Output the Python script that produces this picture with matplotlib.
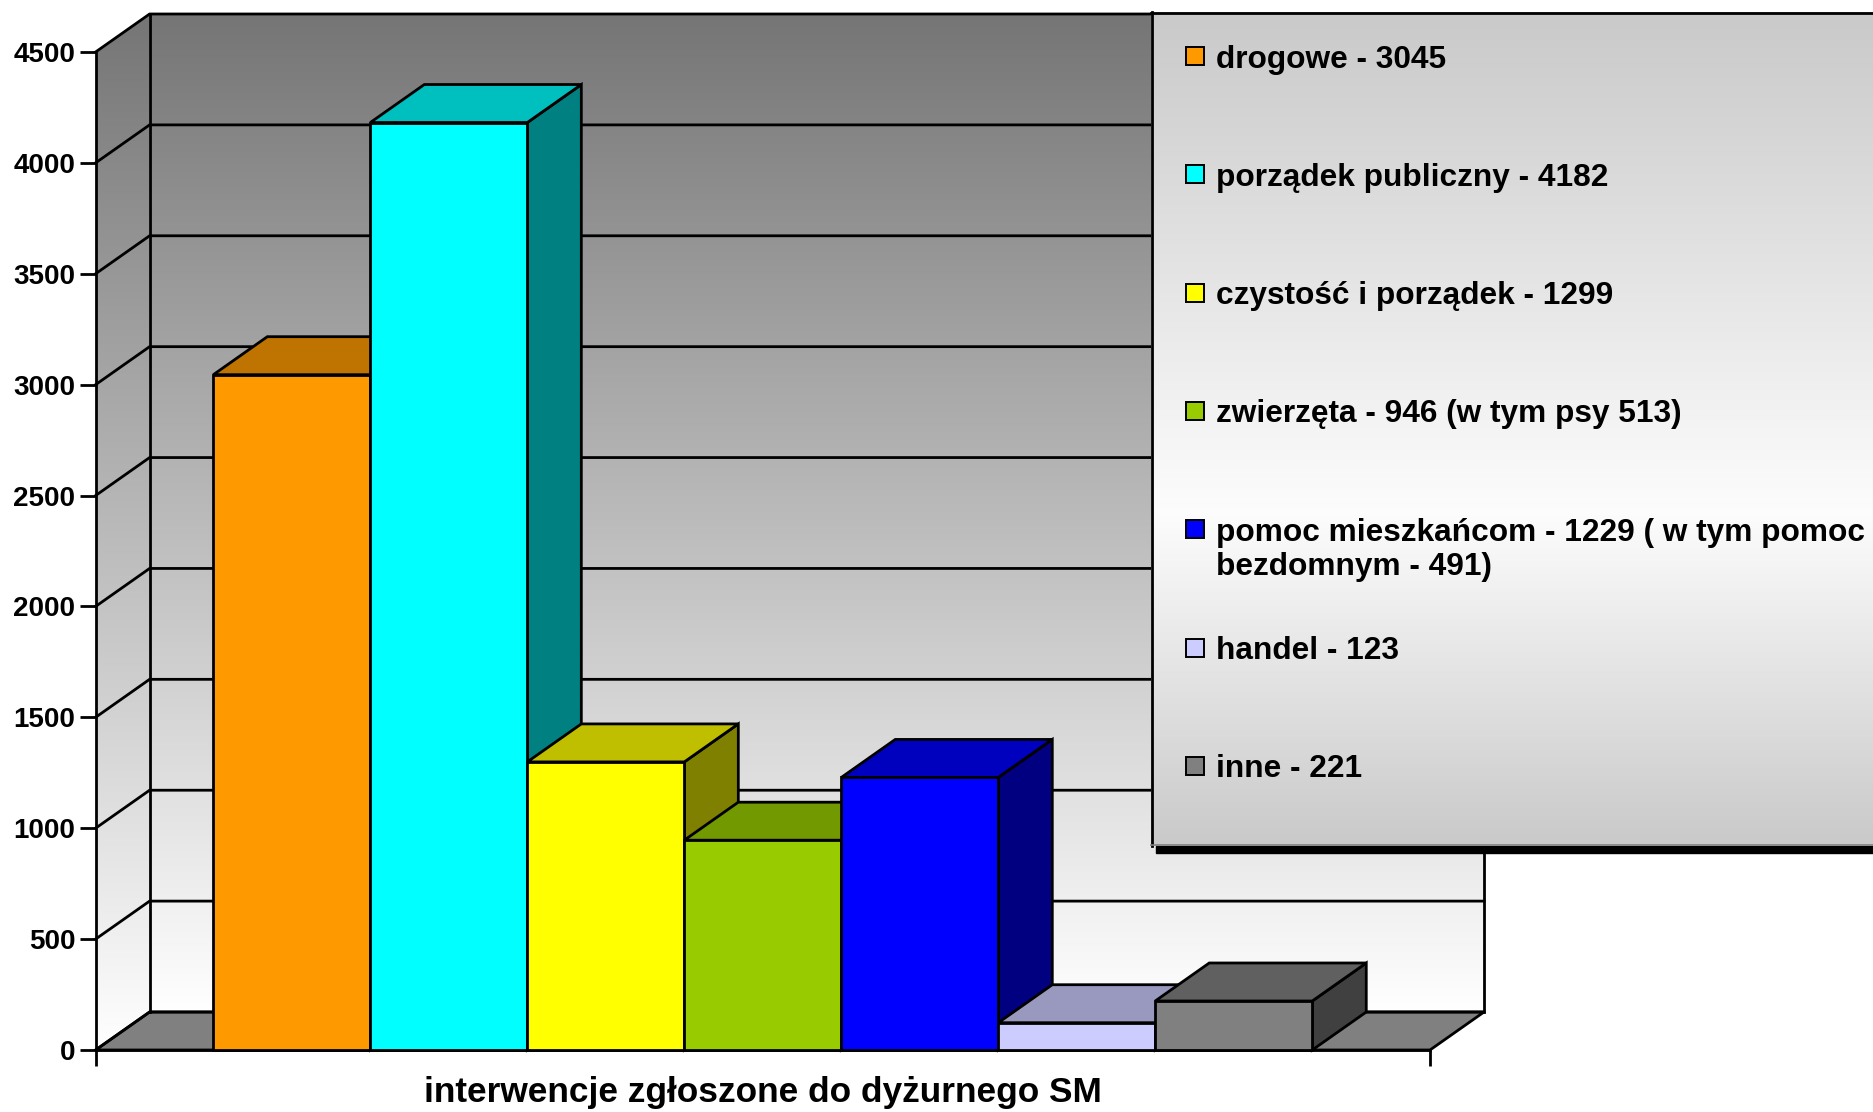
import numpy as np
import matplotlib.pyplot as plt
from matplotlib.patches import Polygon, Rectangle
from matplotlib.colors import to_rgb

plt.rcParams['font.family'] = ['Liberation Sans', 'DejaVu Sans']
plt.rcParams['font.weight'] = 'bold'

# data
category = "interwencje zgłoszone do dyżurnego SM"
series = ["drogowe", "porządek publiczny", "czystość i porządek", "zwierzęta",
          "pomoc mieszkańcom", "handel", "inne"]
values = [3045, 4182, 1299, 946, 1229, 123, 221]
legend_labels = ["drogowe - 3045",
                 "porządek publiczny - 4182",
                 "czystość i porządek - 1299",
                 "zwierzęta - 946 (w tym psy 513)",
                 "pomoc mieszkańcom - 1229 ( w tym pomoc\nbezdomnym - 491)",
                 "handel - 123",
                 "inne - 221"]
colors = ["#FF9900", "#00FFFF", "#FFFF00", "#99CC00", "#0000FF", "#CCCCFF", "#808080"]
yticks = np.arange(0, 4501, 500)

# layout (pixels, from top-left)
W, H = 1874, 1112
FX0, FX1 = 95.6, 1430      # front plane left / right
FY0, FY1 = 1050, 52        # value 0 / value YMAX
YMAX = 4500
DEPTH = (54, 38)           # 3d depth offset in px
GAP = 0.75
LW = 2.0

n = len(values)
XMIN, XMAX = -0.5 - GAP, n - 0.5 + GAP
sx = (FX1 - FX0) / (XMAX - XMIN)
sy = (FY0 - FY1) / YMAX
DX = DEPTH[0] / sx
DY = DEPTH[1] / sy

fig = plt.figure(figsize=(W / 100, H / 100), dpi=100)
ax = fig.add_axes([0, 0, 1, 1])
xlim = (XMIN - FX0 / sx, XMIN + (W - FX0) / sx)
ylim = (-(H - FY0) / sy, FY0 / sy)
ax.set_xlim(*xlim)
ax.set_ylim(*ylim)
ax.patch.set_visible(False)


def gradient(pts, extent, stops, z=0.5):
    poly = Polygon(pts, closed=True, fc='none', ec='none')
    ax.add_patch(poly)
    t = np.linspace(0, 1, 256)
    g = np.interp(t, [s[0] for s in stops], [s[1] for s in stops])
    img = np.dstack([np.repeat(g[:, None], 2, axis=1)] * 3)
    im = ax.imshow(img, extent=extent, origin='lower', aspect='auto',
                   interpolation='bilinear', zorder=z)
    im.set_clip_path(poly)


wall_stops = [(0, 1.0), (1, 0.46)]
# back wall
gradient([(XMIN + DX, DY), (XMAX + DX, DY), (XMAX + DX, YMAX + DY), (XMIN + DX, YMAX + DY)],
         (XMIN + DX, XMAX + DX, DY, YMAX + DY), wall_stops)
# side wall
gradient([(XMIN, 0), (XMIN + DX, DY), (XMIN + DX, YMAX + DY), (XMIN, YMAX)],
         (XMIN, XMIN + DX, 0, YMAX + DY), wall_stops)
# floor
ax.add_patch(Polygon([(XMIN, 0), (XMAX, 0), (XMAX + DX, DY), (XMIN + DX, DY)],
                     fc='#808080', ec='black', lw=LW, zorder=1))

# gridlines on walls
for v in yticks:
    ax.plot([XMIN, XMIN + DX, XMAX + DX], [v, v + DY, v + DY], color='black', lw=LW, zorder=2)
ax.plot([XMIN + DX, XMIN + DX], [DY, YMAX + DY], color='black', lw=LW, zorder=2)
ax.plot([XMAX + DX, XMAX + DX], [DY, YMAX + DY], color='black', lw=LW, zorder=2)

# bars
for i, (v, c) in enumerate(zip(values, colors)):
    z = 10 + i
    rgb = np.array(to_rgb(c))
    L, R = i - 0.5, i + 0.5
    ax.add_patch(Polygon([(R, 0), (R + DX, DY), (R + DX, v + DY), (R, v)],
                         fc=rgb * 0.5, ec='black', lw=LW, zorder=z))
    ax.add_patch(Polygon([(L, v), (R, v), (R + DX, v + DY), (L + DX, v + DY)],
                         fc=rgb * 0.75, ec='black', lw=LW, zorder=z + 0.1))
    ax.bar(i, v, width=1, color=c, edgecolor='black', lw=LW, zorder=z + 0.2)

# axes
for s in ['top', 'right']:
    ax.spines[s].set_visible(False)
ax.spines['left'].set_position(('data', XMIN))
ax.spines['left'].set_bounds(0, YMAX)
ax.spines['bottom'].set_position(('data', 0))
ax.spines['bottom'].set_bounds(XMIN, XMAX)
for s in ['left', 'bottom']:
    ax.spines[s].set_linewidth(LW)
    ax.spines[s].set_zorder(3)

ax.set_yticks(yticks)
ax.set_yticklabels([str(v) for v in yticks])
ax.tick_params(axis='y', direction='out', length=11.5, width=LW, labelsize=20, pad=3)
ax.set_xticks([XMIN, XMAX])
ax.set_xticklabels(['', ''])
ax.set_xticks([(XMIN + XMAX) / 2], minor=True)
ax.set_xticklabels([category], minor=True)
ax.tick_params(axis='x', which='major', direction='out', length=11.5, width=LW)
ax.tick_params(axis='x', which='minor', length=0, labelsize=25.4, pad=19)
ax.set_xlim(*xlim)
ax.set_ylim(*ylim)

# legend
LX0, LY0, LX1, LY1 = 1151, 12, 1900, 846
lw_, lh_ = LX1 - LX0, LY1 - LY0
lax = fig.add_axes([LX0 / W, 1 - LY1 / H, lw_ / W, lh_ / H])
lax.set_zorder(2)
lax.set_xlim(0, lw_)
lax.set_ylim(lh_, 0)
lax.axis('off')
t = np.linspace(0, 1, 256)
g = np.interp(t, [0, 0.6, 1], [0.79, 0.99, 0.79])
lax.imshow(np.dstack([np.repeat(g[:, None], 2, axis=1)] * 3), extent=(0, lw_, lh_, 0),
           aspect='auto', interpolation='bilinear')
lax.plot([1, 1], [0, lh_], color='black', lw=LW, clip_on=False)
lax.plot([0, lw_], [1, 1], color='black', lw=LW, clip_on=False)
lax.plot([0, lw_], [lh_ - 1, lh_ - 1], color='#808080', lw=1.2, clip_on=False)
lax.set_xlim(0, lw_)
lax.set_ylim(lh_, 0)
fig.add_artist(Rectangle((1156 / W, 1 - 853 / H), (W - 1156) / W, 7 / H,
                         transform=fig.transFigure, color='black', zorder=1))

for i, (lab, c) in enumerate(zip(legend_labels, colors)):
    yc = 44 + i * 118.3
    lax.add_patch(Rectangle((35, yc - 9), 18, 18, fc=c, ec='black', lw=1.4))
    for j, line in enumerate(lab.split('\n')):
        lax.text(65, yc + 11.5 + j * 34, line, fontsize=22.8, fontweight='bold',
                 va='baseline')

fig.savefig('out.png', dpi=100)
